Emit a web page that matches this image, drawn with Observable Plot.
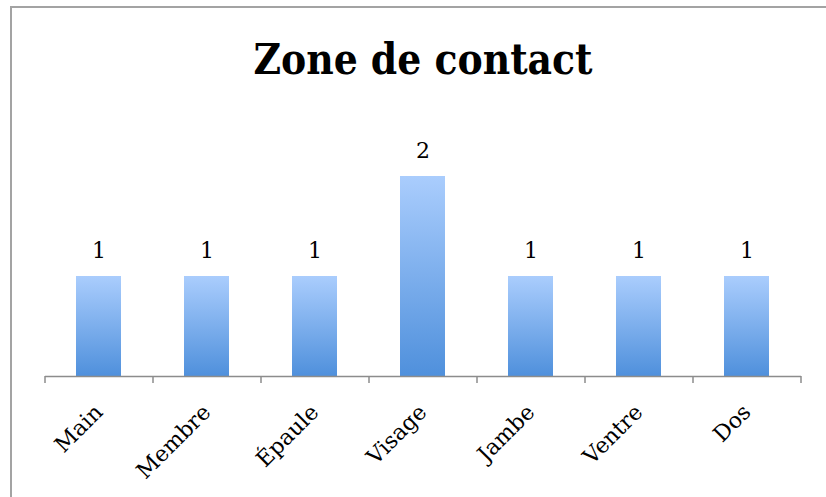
<!DOCTYPE html>
<html><head><meta charset="utf-8">
<script src="https://cdn.jsdelivr.net/npm/d3@7"></script>
<script src="https://cdn.jsdelivr.net/npm/@observablehq/plot@0.6"></script>
<style>
body{margin:0;background:#fff;}
#wrap{position:relative;width:826px;height:497px;overflow:hidden;background:#fff;}
#frame{position:absolute;left:10px;top:6px;width:900px;height:600px;border-left:2px solid #a3a3a3;border-top:2px solid #a3a3a3;}
#title{position:absolute;left:45px;width:756px;top:39px;line-height:42px;text-align:center;font-weight:bold;font-size:42px;font-family:"DejaVu Serif Condensed","DejaVu Serif",serif;font-stretch:condensed;color:#000;}
#chart{position:absolute;left:0;top:0;}
</style></head>
<body>
<div id="wrap"><div id="frame"></div><div id="title">Zone de contact</div><div id="chart"></div></div>
<script>
const categories = ["Main", "Membre", "Épaule", "Visage", "Jambe", "Ventre", "Dos"];
const values = [1, 1, 1, 2, 1, 1, 1];
const data = categories.map((c, i) => ({cat: c, value: values[i]}));

const W = 826, H = 497, mL = 45, mR = 25, mT = 126, mB = 121;
const step = (W - mL - mR) / categories.length;
const font = '"DejaVu Serif", serif';

const chart = Plot.plot({
  width: W, height: H,
  marginLeft: mL, marginRight: mR, marginTop: mT, marginBottom: mB,
  x: {domain: categories, paddingInner: 0.58, paddingOuter: 0.29, axis: null},
  y: {domain: [0, 2.5], axis: null},
  style: {background: "transparent", fontFamily: font},
  marks: [
    Plot.barY(data, {x: "cat", y: "value", fill: "url(#barGrad)", style: {filter: "url(#barShadow)"}}),
    Plot.ruleY([0], {stroke: "#8c8c8c", strokeWidth: 1.5}),
    Plot.ruleX(categories, {x: d => d, dx: -step / 2, stroke: "#8c8c8c", strokeWidth: 1.5, insetTop: H - mT - mB, insetBottom: -7}),
    Plot.ruleX(categories.slice(-1), {x: d => d, dx: step / 2, stroke: "#8c8c8c", strokeWidth: 1.5, insetTop: H - mT - mB, insetBottom: -7}),
    Plot.text(data, {x: "cat", y: "value", text: d => String(d.value), dy: -19, lineAnchor: "bottom", fontSize: 22, fill: "#000"}),
    Plot.text(data, {x: "cat", frameAnchor: "bottom", text: "cat", rotate: -45, textAnchor: "end", lineAnchor: "bottom", dx: 5, dy: 37, fontSize: 22, fill: "#000"})
  ]
});

chart.insertAdjacentHTML("afterbegin",
  '<defs><linearGradient id="barGrad" x1="0" y1="0" x2="0" y2="1">' +
  '<stop offset="0" stop-color="#aacdfd"/><stop offset="1" stop-color="#4f90dc"/></linearGradient>' +
  '<filter id="barShadow" x="-20%" y="-20%" width="140%" height="140%"><feDropShadow dx="1" dy="2" stdDeviation="1.5" flood-color="#000" flood-opacity="0.25"/></filter></defs>');

document.getElementById("chart").appendChild(chart);
</script>
</body></html>
